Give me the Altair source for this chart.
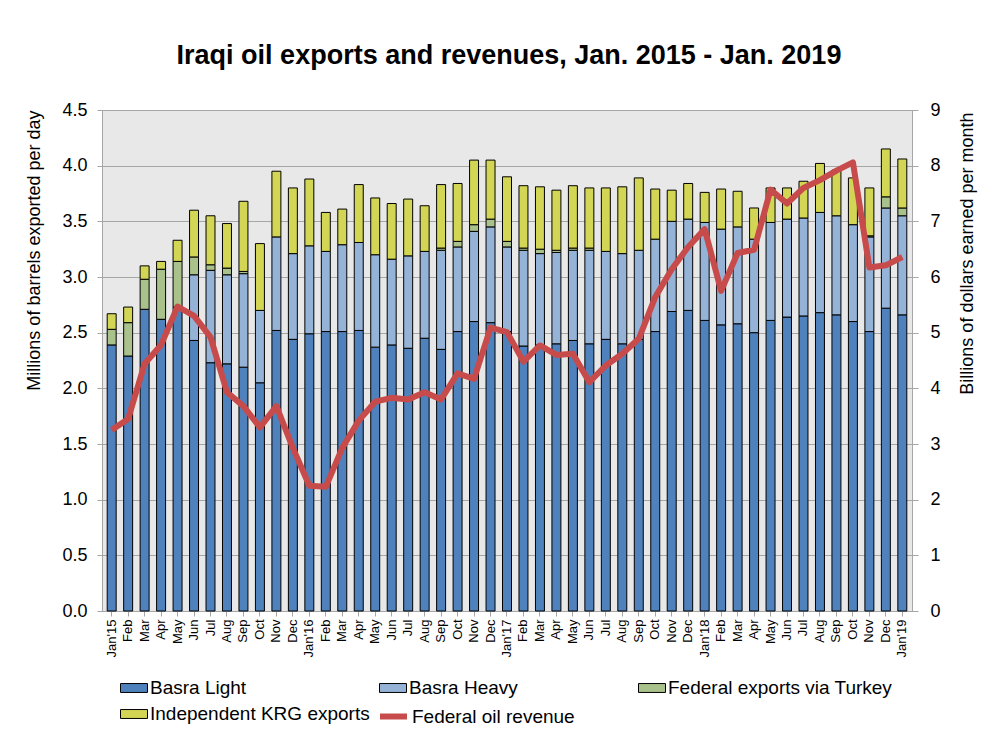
import altair as alt
import pandas as pd

months = [
    "Jan'15", "Feb'15", "Mar'15", "Apr'15", "May'15", "Jun'15", "Jul'15", "Aug'15", "Sep'15", "Oct'15", "Nov'15", "Dec'15",
    "Jan'16", "Feb'16", "Mar'16", "Apr'16", "May'16", "Jun'16", "Jul'16", "Aug'16", "Sep'16", "Oct'16", "Nov'16", "Dec'16",
    "Jan'17", "Feb'17", "Mar'17", "Apr'17", "May'17", "Jun'17", "Jul'17", "Aug'17", "Sep'17", "Oct'17", "Nov'17", "Dec'17",
    "Jan'18", "Feb'18", "Mar'18", "Apr'18", "May'18", "Jun'18", "Jul'18", "Aug'18", "Sep'18", "Oct'18", "Nov'18", "Dec'18",
    "Jan'19",
]

basra_light = [
    2.39, 2.29, 2.71, 2.62, 2.73, 2.43, 2.23, 2.22, 2.19, 2.05, 2.52, 2.44,
    2.49, 2.51, 2.51, 2.52, 2.37, 2.39, 2.36, 2.45, 2.35, 2.51, 2.60, 2.59,
    2.51, 2.38, 2.39, 2.40, 2.43, 2.40, 2.44, 2.40, 2.44, 2.51, 2.69, 2.70,
    2.61, 2.57, 2.58, 2.50, 2.61, 2.64, 2.65, 2.68, 2.66, 2.60, 2.51, 2.72,
    2.66,
]
basra_heavy = [
    0, 0, 0, 0, 0, 0.59, 0.83, 0.80, 0.84, 0.65, 0.84, 0.77,
    0.79, 0.72, 0.78, 0.79, 0.83, 0.77, 0.83, 0.78, 0.89, 0.76, 0.81, 0.86,
    0.76, 0.86, 0.82, 0.82, 0.81, 0.84, 0.79, 0.81, 0.80, 0.83, 0.81, 0.82,
    0.88, 0.86, 0.87, 0.84, 0.88, 0.88, 0.88, 0.90, 0.89, 0.87, 0.85, 0.90,
    0.89,
]
turkey = [
    0.14, 0.30, 0.27, 0.45, 0.41, 0.16, 0.05, 0.06, 0.02, 0, 0, 0,
    0, 0, 0, 0, 0, 0, 0, 0, 0.02, 0.05, 0.06, 0.07,
    0.05, 0.02, 0.04, 0.02, 0.02, 0.02, 0, 0, 0, 0, 0, 0,
    0, 0, 0, 0, 0, 0, 0, 0, 0, 0, 0.01, 0.10,
    0.07,
]
krg = [
    0.14, 0.14, 0.12, 0.07, 0.19, 0.42, 0.44, 0.40, 0.63, 0.60, 0.59, 0.59,
    0.60, 0.35, 0.32, 0.52, 0.51, 0.50, 0.51, 0.41, 0.57, 0.52, 0.58, 0.53,
    0.58, 0.56, 0.56, 0.54, 0.56, 0.54, 0.57, 0.60, 0.65, 0.45, 0.28, 0.32,
    0.27, 0.36, 0.32, 0.28, 0.31, 0.28, 0.33, 0.44, 0.41, 0.42, 0.43, 0.43,
    0.44,
]
revenue = [
    3.25, 3.45, 4.44, 4.78, 5.47, 5.30, 4.92, 3.93, 3.68, 3.30, 3.68, 2.93,
    2.25, 2.23, 2.93, 3.42, 3.76, 3.83, 3.80, 3.93, 3.80, 4.27, 4.17, 5.09,
    5.01, 4.48, 4.77, 4.60, 4.62, 4.11, 4.41, 4.62, 4.89, 5.64, 6.14, 6.54,
    6.86, 5.75, 6.43, 6.49, 7.57, 7.32, 7.60, 7.74, 7.91, 8.06, 6.17, 6.21,
    6.36,
]

series_names = ["Basra Light", "Basra Heavy", "Federal exports via Turkey", "Independent KRG exports"]
series_colors = ["#4f81bd", "#95b3d7", "#a9c18b", "#d3d654"]
line_name = "Federal oil revenue"
line_color = "#c84b4b"

left_ticks = [0, 0.5, 1.0, 1.5, 2.0, 2.5, 3.0, 3.5, 4.0, 4.5]
right_ticks = [0, 1, 2, 3, 4, 5, 6, 7, 8, 9]

rows = []
for i, m in enumerate(months):
    for k, (name, vals) in enumerate(zip(series_names, [basra_light, basra_heavy, turkey, krg])):
        if vals[i] > 0:
            rows.append({"month": m, "series": name, "value": vals[i], "stack_rank": k})
bars_df = pd.DataFrame(rows)
line_df = pd.DataFrame({"month": months, "revenue": revenue, "series": [line_name] * len(months)})

FONT = "Liberation Sans"
GRID = "#a6a6a6"

x_enc = alt.X(
    "month:N",
    sort=months,
    scale=alt.Scale(paddingInner=0.455, paddingOuter=0.315),
    axis=alt.Axis(
        title=None,
        labelAngle=-90,
        labelExpr="indexof(datum.value, 'Jan') == 0 ? datum.value : slice(datum.value, 0, 3)",
        tickSize=5,
        labelPadding=3,
        labelFontSize=13,
        grid=False,
    ),
)

bars = alt.Chart(bars_df).mark_bar(stroke="black", strokeWidth=1).encode(
    x=x_enc,
    y=alt.Y(
        "value:Q",
        stack="zero",
        scale=alt.Scale(domain=[0, 4.5], nice=False),
        axis=alt.Axis(
            values=left_ticks,
            format=".1f",
            title="Millions of barrels exported per day",
            titleAnchor="end",
            titlePadding=18,
            grid=True,
            gridColor=GRID,
            tickSize=5,
            labelPadding=10,
            labelFontSize=18,
            titleFontSize=18,
        ),
    ),
    color=alt.Color(
        "series:N",
        scale=alt.Scale(domain=series_names, range=series_colors),
        legend=alt.Legend(
            title=None,
            orient="none",
            direction="horizontal",
            legendX=18,
            legendY=564,
            columns=3,
            gridAlign="all",
            columnPadding=2,
            rowPadding=2,
            padding=0,
            symbolType="M-1,-0.33H1V0.33H-1Z",
            symbolSize=729,
            symbolStrokeColor="black",
            symbolStrokeWidth=1,
            labelFontSize=19,
            labelFont=FONT,
            labelOffset=2,
            labelLimit=400,
        ),
    ),
    order=alt.Order("stack_rank:Q"),
)

line = alt.Chart(line_df).mark_line(strokeWidth=6, strokeJoin="round").encode(
    x=alt.X("month:N", sort=months),
    y=alt.Y(
        "revenue:Q",
        scale=alt.Scale(domain=[0, 9], nice=False),
        axis=alt.Axis(
            orient="right",
            values=right_ticks,
            format="d",
            title="Billions of dollars earned per month",
            titleAngle=270,
            titleAlign="right",
            titleBaseline="middle",
            titleX=55,
            titleY=2,
            grid=False,
            tickSize=6,
            labelPadding=12,
            labelFontSize=18,
            titleFontSize=18,
        ),
    ),
    color=alt.Color(
        "series:N",
        scale=alt.Scale(domain=[line_name], range=[line_color]),
        legend=alt.Legend(
            title=None,
            orient="none",
            legendX=275,
            legendY=590,
            padding=0,
            symbolType="stroke",
            symbolSize=729,
            symbolStrokeWidth=6,
            labelFontSize=19,
            labelFont=FONT,
            labelOffset=2,
            labelLimit=400,
        ),
    ),
)

chart = (
    alt.layer(bars, line)
    .resolve_scale(y="independent", color="independent")
    .properties(
        width=810,
        height=501,
        autosize=alt.AutoSizeParams(type="none"),
        padding={"left": 102, "top": 110, "right": 91, "bottom": 121},
        background="white",
        title=alt.TitleParams(
            "Iraqi oil exports and revenues, Jan. 2015 - Jan. 2019",
            font=FONT,
            fontSize=27,
            fontWeight="bold",
            color="black",
            anchor="middle",
            offset=31,
            dx=2,
        ),
    )
    .configure_view(fill="#e8e8e8", stroke=GRID, strokeWidth=1)
    .configure_axis(
        labelFont=FONT,
        titleFont=FONT,
        labelColor="black",
        titleColor="black",
        titleFontWeight="normal",
        domainColor=GRID,
        tickColor=GRID,
    )
)

chart.save("out.html", embed_options={"renderer": "svg", "actions": False})
